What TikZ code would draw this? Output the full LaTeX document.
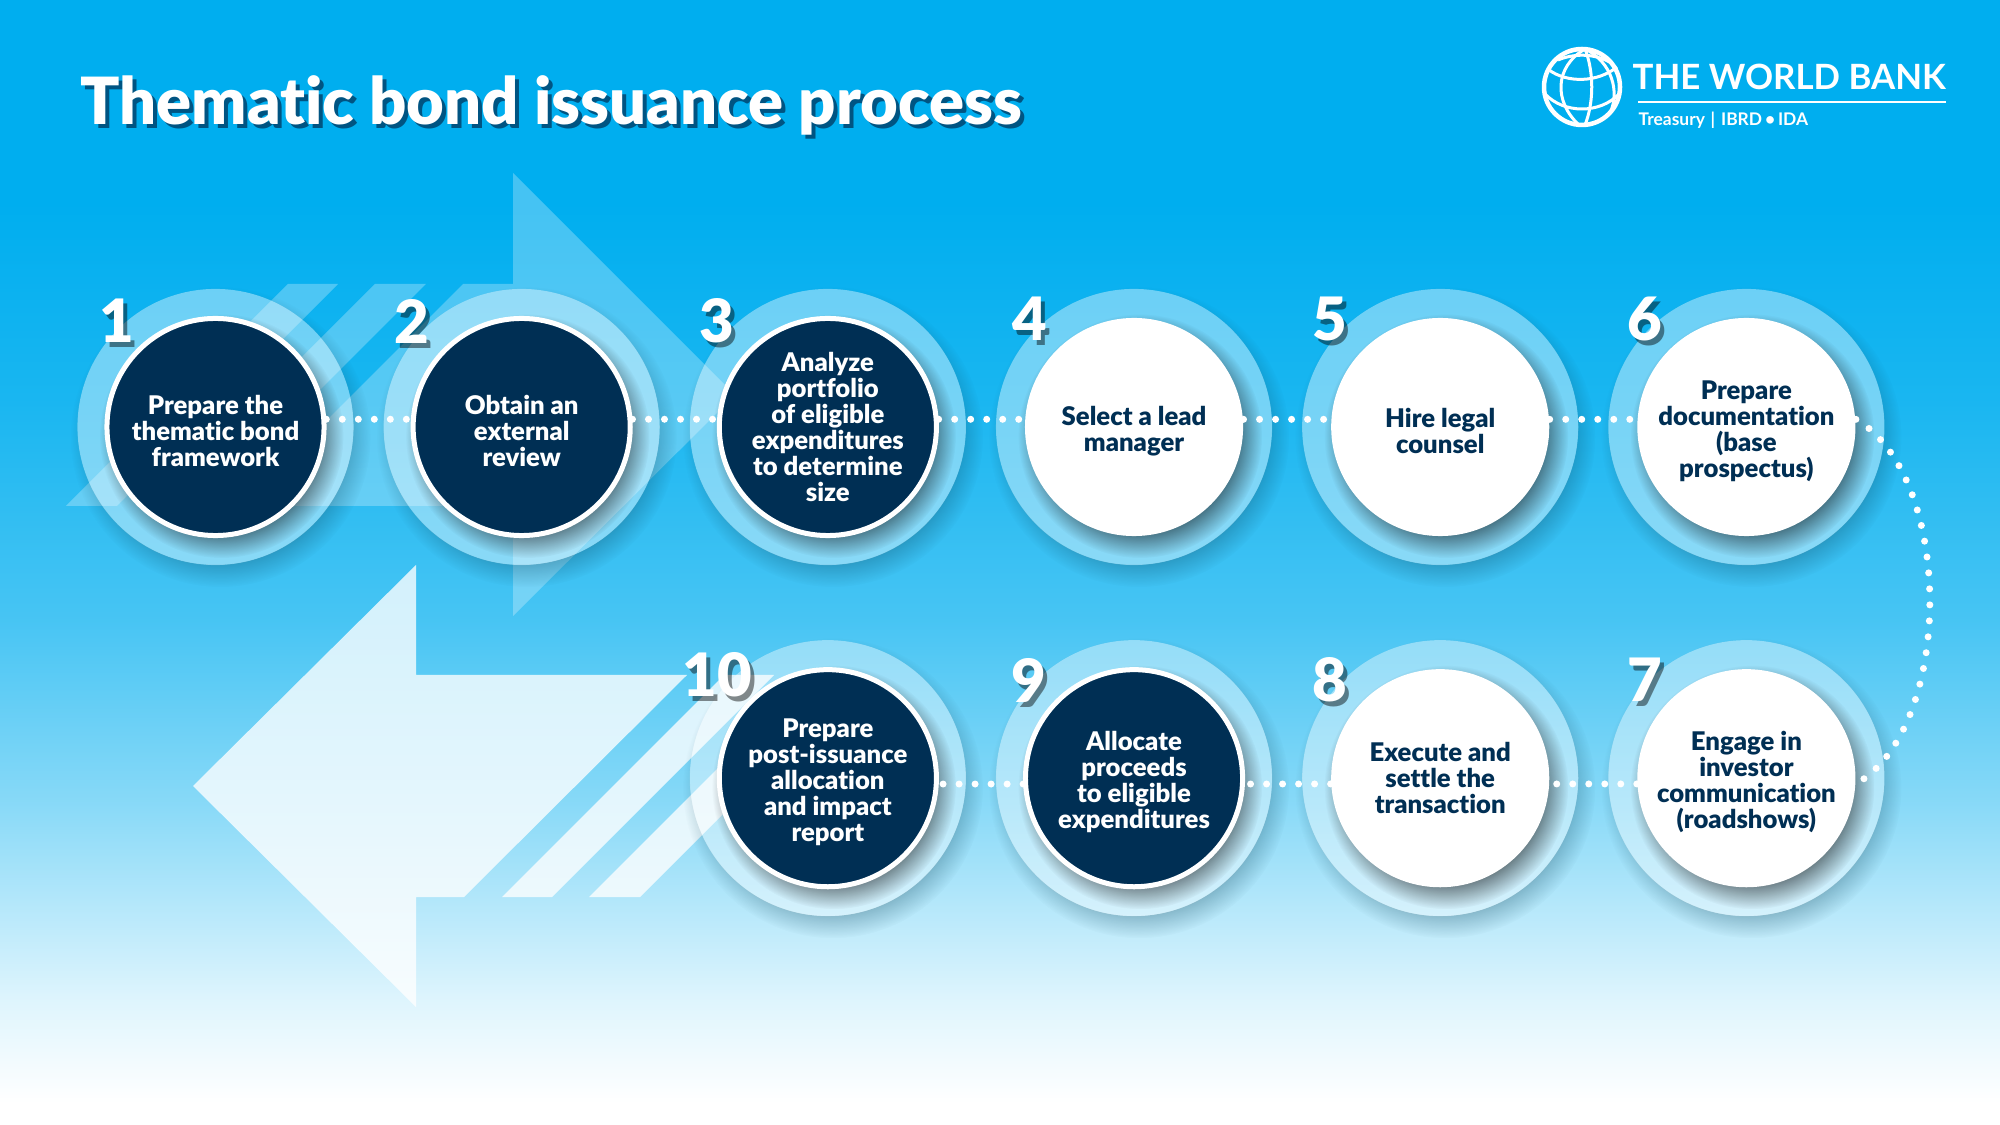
\documentclass[tikz,border=0pt]{standalone}
\usepackage{fontspec}
\setmainfont{Lato}[BoldFont=Lato Black,Ligatures=NoCommon]
\newfontfamily\logofont{Lato}[UprightFont=* Bold,Ligatures=NoCommon]
\usetikzlibrary{fadings}

\definecolor{wbnavy}{HTML}{002F54}
\definecolor{bgtop}{HTML}{00AEEF}

% page background, top to bottom
\pgfdeclareverticalshading{bgfade}{100bp}{color(0bp)=(white); color(25bp)=(white); color(26bp)=(white);
  color(30.6bp)=(white!87!bgtop); color(35bp)=(white!70!bgtop); color(39.4bp)=(white!53!bgtop);
  color(47.4bp)=(white!28!bgtop); color(57.2bp)=(white!10!bgtop); color(66bp)=(bgtop); color(100bp)=(bgtop)}

% soft edge for the shadows
\pgfdeclareradialshading{softdisc}{\pgfpointorigin}{color(0bp)=(white); color(20bp)=(white); color(25bp)=(black); color(50bp)=(black)}
\pgfdeclarefading{softedge}{\pgfuseshading{softdisc}}

\tikzset{
  main ring/.style={circle,minimum size=2.76cm,inner sep=0pt,fill=white,fill opacity=.4},
  step text/.style={align=center,font=\bfseries\fontsize{7.3}{7.4}\selectfont},
  dark node/.style={circle,minimum size=2.17cm,inner sep=0pt,fill=wbnavy,draw=white,line width=.05cm,text=white,step text},
  light node/.style={circle,minimum size=2.18cm,inner sep=0pt,fill=white,text=wbnavy,step text},
  dots/.style={white,line width=.07cm,line cap=round,dash pattern=on 0pt off .16cm},
  soft arrow/.style={fill=white,fill opacity=.27},
  pale arrow/.style={fill=white,fill opacity=.78},
  num/.style={text=white,font=\bfseries\fontsize{17}{17}\selectfont},
  num shade/.style={text=black,text opacity=.45,font=\bfseries\fontsize{17}{17}\selectfont}
}

% shadows round a ring and its inner disc
\newcommand{\ringshade}[1]{
  \fill[black!70!bgtop,even odd rule,fill opacity=.32,path fading=softedge,fit fading=true] (#1) ++(5,10) circle (150) (#1) circle (138);
  \fill[black,fill opacity=.45,path fading=softedge,fit fading=true] (#1) ++(6,9) circle (122);
}
\newcommand{\stepnum}[3]{
  \node[num shade] at (#1+4,#2+5) {#3};
  \node[num] (n#3) at (#1,#2) {#3};
}
% taller first line, sets the text a little low in its disc
\newcommand{\lowtext}{\rule{0pt}{7.8pt}}

\begin{document}
\begin{tikzpicture}[x=.01cm,y=-.01cm,node distance=3.06cm]

  \useasboundingbox (0,0) rectangle (2000,1125);
  \shade[shading=bgfade] (0,0) rectangle (2000,1125);

  % big arrow, pointing right
  \fill[soft arrow] (288,284) -- (338,284) -- (117,506) -- (66,506) -- cycle;
  \fill[soft arrow] (375,284) -- (426,284) -- (204,506) -- (153,506) -- cycle;
  \fill[soft arrow] (463,284) -- (513,284) -- (513,173) -- (735,395) -- (513,616) -- (513,506) -- (241,506) -- cycle;

  % big arrow, pointing left
  \fill[pale arrow] (416,565) -- (193,786) -- (416,1007) -- (416,897) -- (464,897) -- (687,675) -- (416,675) -- cycle;
  \fill[pale arrow] (724,675) -- (774,675) -- (552,897) -- (502,897) -- cycle;
  \fill[pale arrow] (811,675) -- (862,675) -- (640,897) -- (589,897) -- cycle;

  % rings
  \node[main ring] (r1) at (215.5,427) {};
  \node[main ring] (r2) [right of=r1] {};
  \node[main ring] (r3) [right of=r2] {};
  \node[main ring] (r4) [right of=r3] {};
  \node[main ring] (r5) [right of=r4] {};
  \node[main ring] (r6) [right of=r5] {};
  \node[main ring] (r7) [below of=r6,node distance=3.51cm] {};
  \node[main ring] (r8) [left of=r7] {};
  \node[main ring] (r9) [left of=r8] {};
  \node[main ring] (r10) [left of=r9] {};

  \ringshade{r1}
  \ringshade{r2}
  \ringshade{r3}
  \ringshade{r4}
  \ringshade{r5}
  \ringshade{r6}
  \ringshade{r7}
  \ringshade{r8}
  \ringshade{r9}
  \ringshade{r10}

  % steps
  \node[dark node] (1) at (r1) {\lowtext Prepare the\\thematic bond\\framework};
  \node[dark node] (2) at (r2) {\lowtext Obtain an\\external\\review};
  \node[dark node] (3) at (r3) {Analyze\\portfolio\\of eligible\\expenditures\\to determine\\size};
  \node[light node] (4) at (r4) {\lowtext Select a lead\\manager};
  \node[light node] (5) at (r5) {\lowtext Hire legal\\counsel};
  \node[light node] (6) at (r6) {\lowtext Prepare\\documentation\\(base\\prospectus)};
  \node[light node] (7) at (r7) {\lowtext Engage in\\investor\\communication\\(roadshows)};
  \node[light node] (8) at (r8) {Execute and\\settle the\\transaction};
  \node[dark node] (9) at (r9) {\lowtext Allocate\\proceeds\\to eligible\\expenditures};
  \node[dark node] (10) at (r10) {\lowtext Prepare\\post-issuance\\allocation\\and impact\\report};

  \draw[dots] (1.4) -- (2.176);
  \draw[dots] (2.4) -- (3.176);
  \draw[dots] (3.4) -- (4.176);
  \draw[dots] (4.4) -- (5.176);
  \draw[dots] (5.4) -- (6.176);
  \draw[dots] (6.4) to[out=-30,in=30,looseness=.8] (7.-3);
  \draw[dots] (7.183) -- (8.-3);
  \draw[dots] (8.183) -- (9.-3);
  \draw[dots] (9.183) -- (10.-3);

  % step numbers
  \stepnum{117}{321}{1}
  \stepnum{412}{321}{2}
  \stepnum{717}{321}{3}
  \stepnum{1030}{319}{4}
  \stepnum{1330}{319}{5}
  \stepnum{1645}{319}{6}
  \stepnum{1645}{680}{7}
  \stepnum{1330}{680}{8}
  \stepnum{1029}{680}{9}
  \stepnum{717}{675}{10}

  % heading
  \node[anchor=base west,inner sep=0pt,text=wbnavy,text opacity=.7,font=\bfseries\fontsize{18.5}{18.5}\selectfont] (titleshade) at (84,129) {Thematic bond issuance process};
  \node[anchor=base west,inner sep=0pt,text=white,font=\bfseries\fontsize{18.5}{18.5}\selectfont] (title) at (80,125) {Thematic bond issuance process};

  % logo
  \begin{scope}[shift={(1582,87)},white,line width=.03cm]
    \draw[line width=.045cm] (0,0) circle (38);
    \draw (-24,-27) .. controls (-10,-33) and (12,-35) .. (31,-23);
    \draw (-33,-17) .. controls (-15,-4) and (15,-4) .. (35,-20);
    \draw (-37,7) .. controls (-18,27) and (18,27) .. (37,7);
    \draw (3,-38) .. controls (-28,-20) and (-28,15) .. (-3,38);
    \draw (3,-38) .. controls (12,-15) and (12,15) .. (3,38);
    \draw (3,-38) .. controls (30,-25) and (38,5) .. (28,26);
  \end{scope}
  \node[anchor=base west,inner sep=0pt,text=white,font=\logofont\fontsize{9.9}{10}\selectfont] (bank) at (1632,90) {THE WORLD BANK};
  \node[anchor=base west,inner sep=0pt,text=white,font=\logofont\fontsize{4.95}{5}\selectfont] (treasury) at (1638,126) {Treasury\,\,|\,\,IBRD\,•\,IDA};
  \coordinate (ruleleft) at (1638,102);
  \coordinate (ruleright) at (1946,102);
  \draw[white,line width=.012cm] (ruleleft) -- (ruleright);

\end{tikzpicture}
\end{document}
